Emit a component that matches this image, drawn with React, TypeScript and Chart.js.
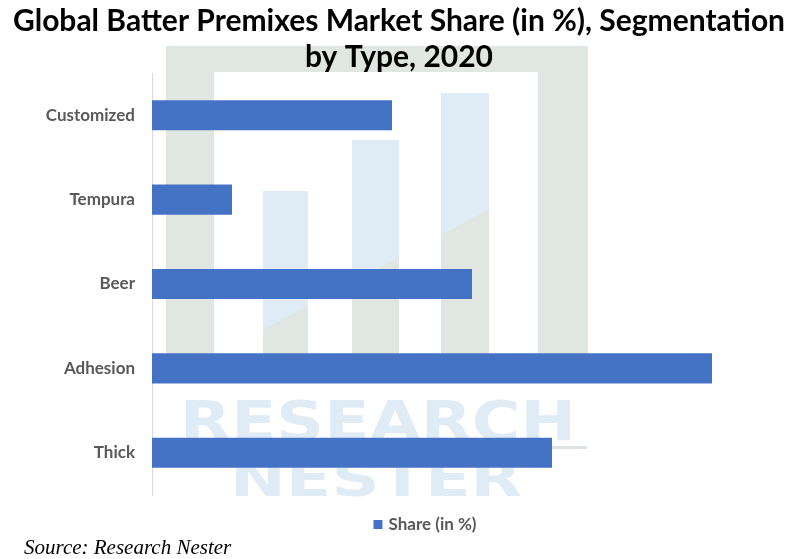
import React, { useEffect, useRef } from "react";
import { Chart, registerables } from "chart.js";

Chart.register(...registerables);

const categories = ["Customized", "Tempura", "Beer", "Adhesion", "Thick"];
const shares = [15, 5, 20, 35, 25];
const seriesLabel = "Share (in %)";
const titleLines = ["Global Batter Premixes Market Share (in %), Segmentation", "by Type, 2020"];
const sourceText = "Source: Research Nester";

const watermarkPlugin = {
  id: "watermark",
  beforeDraw(chart: any) {
    const ctx = chart.ctx;
    ctx.save();
    ctx.fillStyle = "#ffffff";
    ctx.fillRect(0, 0, chart.width, chart.height);
    const gray = "#e0e7e2";
    const blue = "#dfecf6";
    ctx.fillStyle = gray;
    ctx.fillRect(166, 46, 422, 26);
    ctx.fillRect(166, 46, 48, 337);
    ctx.fillRect(538, 46, 50, 337);
    const bars = [
      [263, 191, 45],
      [352, 140, 47],
      [441, 93, 48],
    ];
    for (const [x, y, w] of bars) ctx.fillRect(x, y, w, 383 - y);
    ctx.save();
    ctx.beginPath();
    ctx.moveTo(150, 0);
    ctx.lineTo(600, 0);
    ctx.lineTo(600, 150);
    ctx.lineTo(150, 390);
    ctx.closePath();
    ctx.clip();
    ctx.fillStyle = blue;
    for (const [x, y, w] of bars) ctx.fillRect(x, y, w, 383 - y);
    ctx.restore();
    const drawFit = (t: string, x: number, yBase: number, w: number, h: number) => {
      ctx.save();
      ctx.font = "bold 50px 'DejaVu Sans'";
      const m = ctx.measureText(t);
      ctx.translate(x, yBase);
      ctx.scale(w / m.width, h / 36);
      ctx.fillStyle = blue;
      ctx.textBaseline = "alphabetic";
      ctx.fillText(t, 0, 0);
      ctx.restore();
    };
    drawFit("RESEARCH", 180, 440, 396, 40);
    drawFit("NESTER", 230, 496, 292, 36);
    ctx.fillStyle = "#dde3df";
    ctx.fillRect(545, 446, 42, 3);
    ctx.restore();
  },
  afterDraw(chart: any) {
    const ctx = chart.ctx;
    ctx.save();
    ctx.fillStyle = "#000000";
    ctx.textAlign = "center";
    ctx.textBaseline = "middle";
    ctx.font = "bold 30px Lato";
    ctx.fillText(titleLines[0], 399, 21);
    ctx.fillText(titleLines[1], 399, 57);
    const ds = chart.data.datasets[0];
    ctx.font = "bold 17px Lato";
    const tw = ctx.measureText(ds.label).width;
    const total = 9 + 6 + tw;
    const lx = 425 - total / 2;
    ctx.fillStyle = ds.backgroundColor;
    ctx.fillRect(lx, 520, 9, 9);
    ctx.fillStyle = "#595959";
    ctx.textAlign = "left";
    ctx.fillText(ds.label, lx + 15, 525);
    ctx.fillStyle = "#000000";
    ctx.font = "italic 21px 'Liberation Serif'";
    ctx.fillText(sourceText, 24, 548);
    ctx.restore();
  },
};

export default function App() {
  const ref = useRef<HTMLCanvasElement>(null);
  useEffect(() => {
    document.body.style.margin = "0";
    const chart = new Chart(ref.current!, {
      type: "bar",
      data: {
        labels: categories,
        datasets: [
          {
            label: seriesLabel,
            data: shares,
            backgroundColor: "#4472c4",
            categoryPercentage: 1,
            barPercentage: 0.357,
          },
        ],
      },
      plugins: [watermarkPlugin],
      options: {
        indexAxis: "y",
        animation: false,
        responsive: false,
        layout: { padding: { top: 73, right: 46, bottom: 64, left: 0 } },
        scales: {
          x: { display: false, min: 0, max: 37.5 },
          y: {
            grid: { display: false, drawTicks: false },
            border: { display: true, color: "#d9d9d9", width: 1 },
            afterFit(scale: any) {
              scale.width = 152;
            },
            ticks: {
              padding: 17,
              color: "#595959",
              font: { family: "Lato", weight: "bold", size: 17 },
            },
          },
        },
        plugins: {
          title: { display: false },
          tooltip: { enabled: false },
          legend: { display: false },
        },
      },
    });
    return () => chart.destroy();
  }, []);
  return <canvas ref={ref} width={798} height={559} style={{ display: "block" }} />;
}
